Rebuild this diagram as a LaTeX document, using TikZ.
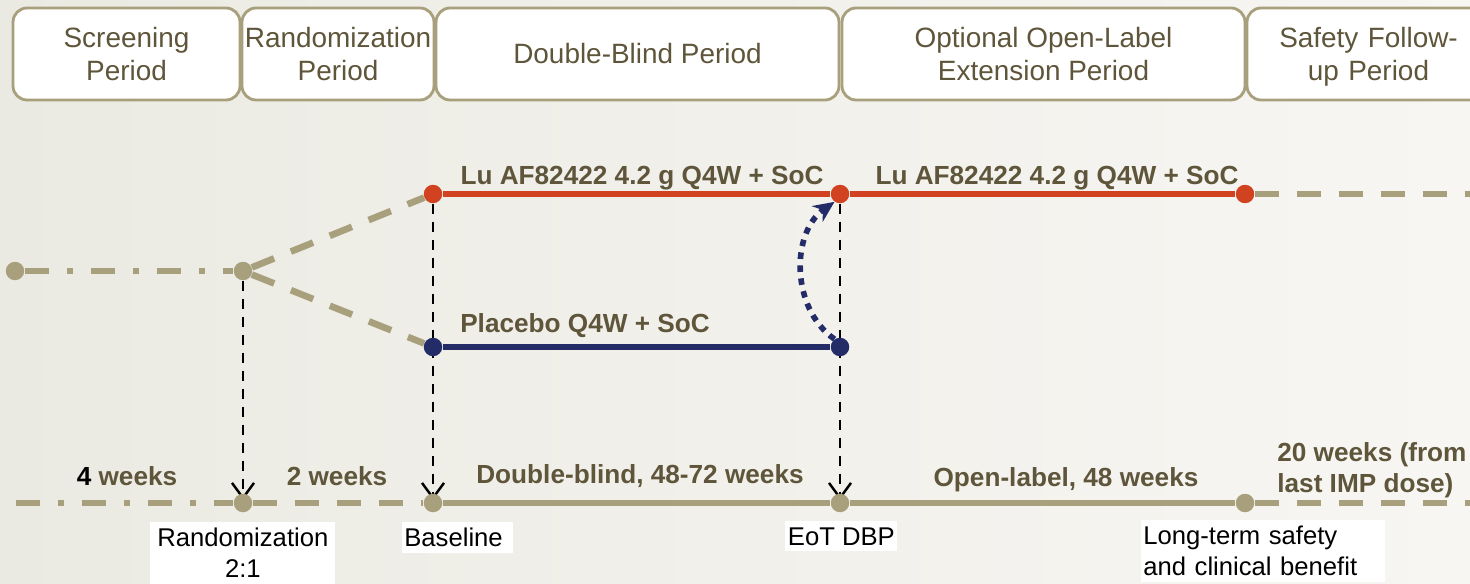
\documentclass[tikz,border=0pt]{standalone}
\usepackage{fontspec}
\setmainfont{Liberation Sans}
\usepackage{xcolor}
\usetikzlibrary{arrows.meta,positioning}
\definecolor{trialtan}{RGB}{168,160,124}
\definecolor{trialtext}{RGB}{94,85,58}
\definecolor{trialred}{RGB}{208,66,32}
\definecolor{trialnavy}{RGB}{36,44,104}
\definecolor{bgleft}{RGB}{235,234,226}
\definecolor{bgright}{RGB}{247,246,243}
\pgfdeclarelayer{back}
\pgfdeclarelayer{lines}
\pgfsetlayers{back,lines,main}
\tikzset{
  periodbox/.style={
    rectangle,
    rounded corners=2.8mm,
    draw=trialtan,
    line width=1.6pt,
    fill=white,
    align=center,
    minimum height=1.84cm,
    inner sep=1pt,
    text=trialtext,
    font=\fontsize{15.9}{18.7}\selectfont
  },
  armdot/.style={
    circle,
    fill=#1,
    inner sep=0pt,
    minimum size=3.7mm
  },
  armline/.style={
    draw=#1,
    line width=3.6pt
  },
  tanline/.style={
    draw=trialtan,
    line width=3.8pt
  },
  tandash/.style={
    tanline,
    dash pattern=on 4.8mm off 3.6mm
  },
  tandashdot/.style={
    tanline,
    dash pattern=on 4.8mm off 3.6mm on 1.2mm off 3.6mm
  },
  droparrow/.style={
    -{Straight Barb[length=3mm,width=4.4mm]},
    line width=1.4pt,
    draw=black,
    dash pattern=on 2mm off 1.6mm,
    shorten >=0.6mm
  },
  switcharrow/.style={
    -{Stealth[length=4.2mm,width=3.8mm]},
    draw=trialnavy,
    line width=3.2pt,
    dash pattern=on 1.3mm off 1.3mm
  },
  armlbl/.style={
    anchor=base,
    inner sep=0pt,
    text=trialtext,
    font=\fontsize{14.9}{17.6}\selectfont\bfseries
  },
  eventlbl/.style={
    anchor=north west,
    fill=white,
    text=black,
    inner xsep=0.4mm,
    inner ysep=1.2mm,
    font=\fontsize{14.6}{17.6}\selectfont
  }
}

\begin{document}
\begin{tikzpicture}[x=0.02cm, y=-0.02cm]
\useasboundingbox (0,0) rectangle (1470,584);
\begin{pgfonlayer}{back}
\shade[left color=bgleft, right color=bgright] (0,0) rectangle (1470,584);
\end{pgfonlayer}
\clip (0,0) rectangle (1470,584);

% period headers
\node[periodbox, minimum width=4.54cm] (scr) at (126.5,54) {Screening\\Period};
\node[periodbox, minimum width=3.84cm] (rnd) at (338,54) {Randomization\\Period};
\node[periodbox, minimum width=8.06cm] (dbp) at (637.5,54) {Double-Blind Period};
\node[periodbox, minimum width=8.06cm] (olx) at (1043.5,54) {Optional Open-Label\\Extension Period};
\node[periodbox, minimum width=4.86cm, text width=4.6cm] (sfu) at (1368.5,54) {Safety Follow-\\\raisebox{0pt}[\height][0pt]{up Period}};

% treatment arms
\node[armdot=trialtan] (start) at (15,271) {};
\node[armdot=trialtan] (rand) at (243,271) {};
\node[armdot=trialred] (actbase) at (433,194) {};
\node[armdot=trialnavy] (plcbase) at (433,347) {};
\node[armdot=trialred] (acteot) at (840,194) {};
\node[armdot=trialnavy] (plceot) at (840,347) {};
\node[armdot=trialred] (olend) at (1245,194) {};
\coordinate (olout) at (1470,194);

% time axis
\coordinate (axstart) at (16,503);
\node[armdot=trialtan] (axrand) at (243,503) {};
\node[armdot=trialtan] (axbase) at (433,503) {};
\node[armdot=trialtan] (axeot) at (840,503) {};
\node[armdot=trialtan] (axlong) at (1245,503) {};
\coordinate (axout) at (1470,503);

% labels
\node[armlbl] (actlbl) at (642,185) {Lu AF82422 4.2 g Q4W + SoC};
\node[armlbl] (ollbl) at (1057,185) {Lu AF82422 4.2 g Q4W + SoC};
\node[armlbl] (plclbl) at (585,332) {Placebo Q4W + SoC};
\node[armlbl] (scrwk) at (127,485) {\textcolor{black}{4} weeks};
\node[armlbl] (rndwk) at (337,485) {2 weeks};
\node[armlbl] (dbwk) at (640,483) {Double-blind, 48-72 weeks};
\node[armlbl] (olwk) at (1066,486) {Open-label, 48 weeks};
\node[armlbl, anchor=base west, align=left] (fuwk) at (1277,492) {20 weeks (from\\last IMP dose)};

\node[eventlbl, text width=3.5cm, inner xsep=1mm, align=center] (lrand) at (150,522) {Randomization\\2:1};
\node[eventlbl, text width=2.14cm, align=left] (lbase) at (402,522) {Baseline};
\node[eventlbl, minimum width=2.24cm] (leot) at (785,521) {EoT DBP};
\node[eventlbl, text width=4.8cm, align=left] (llong) at (1141,520) {Long-term safety\\and clinical benefit};

\begin{pgfonlayer}{lines}
\draw[tandashdot] (start) -- (rand);
\draw[tandash] (rand) -- (actbase);
\draw[tandash] (rand) -- (plcbase);
\draw[armline=trialred] (actbase) -- (acteot) -- (olend);
\draw[tandash] (olend) -- (olout);
\draw[armline=trialnavy] (plcbase) -- (plceot);

\draw[tandashdot] (axstart) -- (axrand);
\draw[tandash] (axrand) -- (axbase);
\draw[tanline] (axbase) -- (axeot) -- (axlong);
\draw[tandash] (axlong) -- (axout);

\draw[droparrow] (rand) -- (axrand.center);
\draw[droparrow] (actbase) -- (axbase.center);
\draw[droparrow] (acteot) -- (axeot.center);
\end{pgfonlayer}

\draw[switcharrow] (plceot.125) to[bend left=55] (acteot.235);
\end{tikzpicture}
\end{document}
